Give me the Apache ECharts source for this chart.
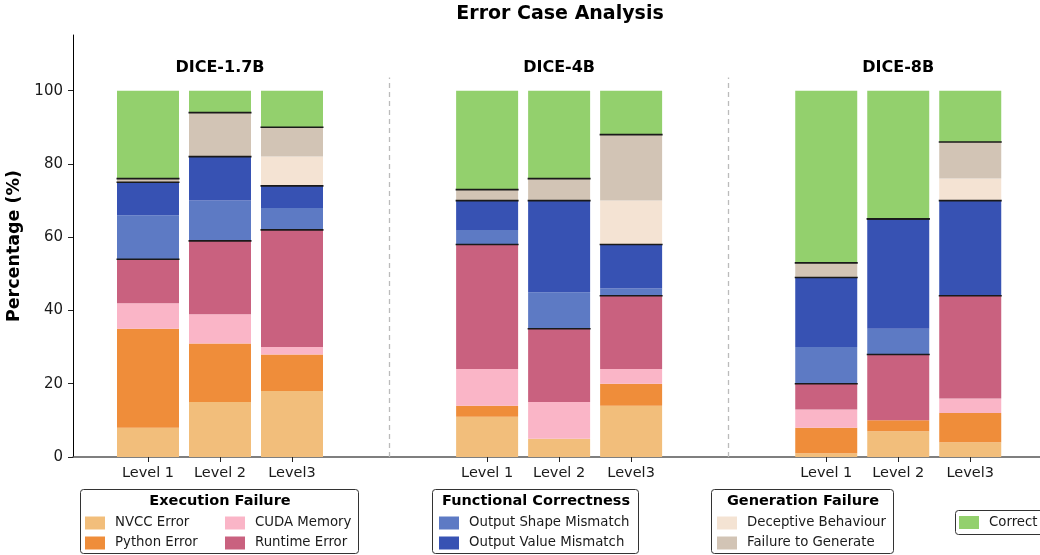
<!DOCTYPE html>
<html>
<head>
<meta charset="utf-8">
<script src="https://cdn.jsdelivr.net/npm/echarts@6/dist/echarts.min.js"></script>
<style>
  html, body { margin: 0; padding: 0; background: #fff; }
  #chart { width: 1040px; height: 555px; }
</style>
</head>
<body>
<div id="chart"></div>
<script>
const models = ["DICE-1.7B", "DICE-4B", "DICE-8B"];
const levels = ["Level 1", "Level 2", "Level3"];

// one value per bar: 1.7B L1..L3, 4B L1..L3, 8B L1..L3 (percent)
const nvccError    = [8, 15, 18, 11, 5, 14, 1, 7, 4];
const pythonError  = [27, 16, 10, 3, 0, 6, 7, 3, 8];
const cudaMemory   = [7, 8, 2, 10, 10, 4, 5, 0, 4];
const runtimeError = [12, 20, 32, 34, 20, 20, 7, 18, 28];
const outputShape  = [12, 11, 6, 4, 10, 2, 10, 7, 0];
const outputValue  = [9, 12, 6, 8, 25, 12, 19, 30, 26];
const deceptive    = [0, 0, 8, 0, 0, 12, 0, 0, 6];
const failGenerate = [1, 12, 8, 3, 6, 18, 4, 0, 10];
const correct      = [24, 6, 10, 27, 24, 12, 47, 35, 14];

const yTicks = [0, 20, 40, 60, 80, 100];

// layout (x in "bar units", 72px each)
const GROUP_STEP = 4.71;
const BAR_W = 62;
const positions = [];
const tickNames = [];
models.forEach((m, g) => {
  levels.forEach((lv, l) => {
    positions.push(+(g * GROUP_STEP + l).toFixed(3));
    tickNames.push(lv);
  });
});

const FONT = "DejaVu Sans";

const segments = [
  { name: "NVCC Error", data: nvccError, color: "#F2BE7B" },
  { name: "Python Error", data: pythonError, color: "#EF8D3A" },
  { name: "CUDA Memory", data: cudaMemory, color: "#FAB5C7" },
  { name: "Runtime Error", data: runtimeError, color: "#C9617F" },
  { name: "Output Shape Mismatch", data: outputShape, color: "#5D7AC4" },
  { name: "Output Value Mismatch", data: outputValue, color: "#3752B3" },
  { name: "Deceptive Behaviour", data: deceptive, color: "#F4E3D3" },
  { name: "Failure to Generate", data: failGenerate, color: "#D2C4B5" },
  { name: "Correct", data: correct, color: "#93D06D" }
];

// stack by hand: each item is [x, bottom, top]
const base = positions.map(() => 0);
const stackSeries = segments.map(s => {
  const data = positions.map((x, i) => {
    const lo = base[i];
    base[i] += s.data[i];
    return [x, lo, base[i]];
  });
  return {
    name: s.name,
    type: "custom",
    itemStyle: { color: s.color },
    encode: { x: 0, y: [1, 2] },
    renderItem: (params, api) => {
      const p0 = api.coord([api.value(0), api.value(1)]);
      const p1 = api.coord([api.value(0), api.value(2)]);
      return {
        type: "rect",
        shape: { x: p0[0] - BAR_W / 2, y: p1[1], width: BAR_W, height: p0[1] - p1[1] },
        style: { fill: api.visual("color") }
      };
    },
    data: data
  };
});

// black lines on top of each failure group (execution, functional, generation)
const groupTops = [3, 5, 7];
const edgeData = [];
positions.forEach((x, i) => {
  groupTops.forEach(k => {
    let sum = 0;
    for (let j = 0; j <= k; j++) sum += segments[j].data[i];
    edgeData.push([x, sum]);
  });
});

const sepX = [
  (positions[2] + positions[3]) / 2,
  (positions[5] + positions[6]) / 2
];

const option = {
  animation: false,
  grid: { left: 73, right: 0, top: 35, bottom: 98, outerBoundsMode: "none" },
  xAxis: {
    type: "value",
    min: -75 / 72,
    max: 892 / 72,
    splitLine: { show: false },
    axisLine: { show: true, onZero: false, lineStyle: { color: "#555", width: 1.5 } },
    axisTick: { show: true, length: 5, customValues: positions, lineStyle: { color: "#222" } },
    axisLabel: {
      customValues: positions,
      fontFamily: FONT, fontSize: 14.5, color: "#1a1a1a", margin: 9,
      formatter: v => {
        const i = positions.findIndex(p => Math.abs(p - v) < 0.01);
        return i >= 0 ? tickNames[i] : "";
      }
    }
  },
  yAxis: {
    type: "value",
    min: 0,
    max: 115.2,
    interval: 20,
    splitLine: { show: false },
    axisLine: { show: true, onZero: false, lineStyle: { color: "#000", width: 1 } },
    axisTick: { show: true, length: 5, customValues: yTicks, lineStyle: { color: "#222" } },
    axisLabel: { customValues: yTicks, fontFamily: FONT, fontSize: 15, color: "#1a1a1a", margin: 10 },
    name: "Percentage (%)",
    nameLocation: "middle",
    nameGap: 40,
    nameTextStyle: { fontFamily: FONT, fontSize: 17.5, fontWeight: "bold", color: "#000" }
  },
  legend: [
    { data: ["NVCC Error", "Python Error"], left: 85 },
    { data: ["CUDA Memory", "Runtime Error"], left: 225 },
    { data: ["Output Shape Mismatch", "Output Value Mismatch"], left: 439 },
    { data: ["Deceptive Behaviour", "Failure to Generate"], left: 717 },
    { data: ["Correct"], left: 959, top: 516 }
  ].map(l => Object.assign({
    top: 516.5,
    orient: "vertical",
    padding: 0,
    itemGap: 7,
    itemWidth: 20,
    itemHeight: 13,
    icon: "rect",
    selectedMode: false,
    textStyle: { fontFamily: FONT, fontSize: 13.3, color: "#1a1a1a", padding: [0, 0, 0, 5] }
  }, l)),
  graphic: [
    { type: "rect", z: 1, shape: { x: 80.5, y: 489.5, width: 278, height: 64, r: 3 }, style: { fill: "#fff", stroke: "#333", lineWidth: 1 } },
    { type: "rect", z: 1, shape: { x: 432.5, y: 489.5, width: 206, height: 64, r: 3 }, style: { fill: "#fff", stroke: "#333", lineWidth: 1 } },
    { type: "rect", z: 1, shape: { x: 711.5, y: 489.5, width: 182, height: 64, r: 3 }, style: { fill: "#fff", stroke: "#333", lineWidth: 1 } },
    { type: "rect", z: 1, shape: { x: 955.5, y: 510.5, width: 100, height: 24, r: 3 }, style: { fill: "#fff", stroke: "#333", lineWidth: 1 } },
    { type: "text", z: 2, x: 220, y: 501, style: { text: "Execution Failure", font: "bold 14.5px DejaVu Sans", fill: "#000", textAlign: "center", textVerticalAlign: "middle" } },
    { type: "text", z: 2, x: 536, y: 501, style: { text: "Functional Correctness", font: "bold 14.5px DejaVu Sans", fill: "#000", textAlign: "center", textVerticalAlign: "middle" } },
    { type: "text", z: 2, x: 803, y: 501, style: { text: "Generation Failure", font: "bold 14.5px DejaVu Sans", fill: "#000", textAlign: "center", textVerticalAlign: "middle" } },
    { type: "text", z: 2, x: 560, y: 14, style: { text: "Error Case Analysis", font: "bold 19px DejaVu Sans", fill: "#000", textAlign: "center", textVerticalAlign: "middle" } }
  ],
  series: stackSeries.concat([
    {
      name: "edges",
      type: "scatter",
      symbol: "rect",
      symbolSize: [63, 1.6],
      itemStyle: { color: "#1a1a1a", opacity: 1 },
      silent: true,
      z: 5,
      data: edgeData,
      markLine: {
        silent: true,
        symbol: "none",
        label: { show: false },
        lineStyle: { color: "#bbb", type: [5, 4], width: 1.3 },
        data: sepX.map(x => [{ coord: [x, 0] }, { coord: [x, 103.6] }])
      }
    },
    {
      name: "groupTitles",
      type: "scatter",
      symbolSize: 0,
      silent: true,
      itemStyle: { opacity: 1 },
      label: {
        show: true,
        position: "inside",
        formatter: "{b}",
        fontFamily: FONT, fontSize: 16, fontWeight: "bold", color: "#000"
      },
      data: models.map((m, g) => ({ name: m, value: [positions[g * 3 + 1], 106.1] }))
    }
  ])
};

const chart = echarts.init(document.getElementById("chart"));
chart.setOption(option);
</script>
</body>
</html>
